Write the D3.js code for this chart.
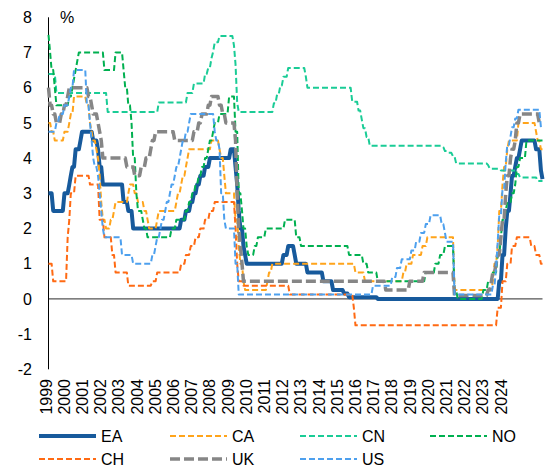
<!DOCTYPE html>
<html>
<head>
<meta charset="utf-8">
<script src="https://cdn.jsdelivr.net/npm/d3@7"></script>
<style>
  html, body { margin: 0; padding: 0; background: #fff; }
  svg { display: block; font-family: "Liberation Sans", Arial, sans-serif; }
</style>
</head>
<body>
<svg id="chart" width="552" height="471"></svg>
<script>
// ---- Data (policy rates, %; change points [month, value]) ----
const yearLabels = ["1999","2000","2001","2002","2003","2004","2005","2006","2007","2008","2009","2010","2011","2012","2013","2014","2015","2016","2017","2018","2019","2020","2021","2022","2023","2024"];
const yTicks = [-2,-1,0,1,2,3,4,5,6,7,8];
const seriesNames = ["EA","CA","CN","NO","CH","UK","US"];

const EA = [["1999-01",3.0],["1999-04",2.5],["1999-11",3.0],["2000-02",3.25],["2000-03",3.5],["2000-04",3.75],["2000-06",4.25],["2000-09",4.5],["2000-10",4.75],["2001-05",4.5],["2001-08",4.25],["2001-09",3.75],["2001-11",3.25],["2002-12",2.75],["2003-03",2.5],["2003-06",2.0],["2005-12",2.25],["2006-03",2.5],["2006-06",2.75],["2006-08",3.0],["2006-10",3.25],["2006-12",3.5],["2007-03",3.75],["2007-06",4.0],["2008-07",4.25],["2008-10",3.75],["2008-11",3.25],["2008-12",2.5],["2009-01",2.0],["2009-03",1.5],["2009-04",1.25],["2009-05",1.0],["2011-04",1.25],["2011-07",1.5],["2011-11",1.25],["2011-12",1.0],["2012-07",0.75],["2013-05",0.5],["2013-11",0.25],["2014-06",0.15],["2014-09",0.05],["2016-03",0.0],["2022-07",0.5],["2022-09",1.25],["2022-11",2.0],["2022-12",2.5],["2023-02",3.0],["2023-03",3.5],["2023-05",3.75],["2023-06",4.0],["2023-08",4.25],["2023-09",4.5],["2024-06",4.25],["2024-09",3.65],["2024-10",3.4]];

const CA = [["1999-01",5.0],["1999-03",4.75],["1999-05",4.5],["1999-11",4.75],["2000-02",5.0],["2000-03",5.25],["2000-05",5.75],["2001-01",5.5],["2001-03",5.0],["2001-04",4.75],["2001-05",4.5],["2001-07",4.25],["2001-08",4.0],["2001-09",3.5],["2001-10",2.75],["2001-11",2.25],["2002-01",2.0],["2002-04",2.25],["2002-06",2.5],["2002-07",2.75],["2003-03",3.0],["2003-04",3.25],["2003-07",3.0],["2003-09",2.75],["2004-01",2.5],["2004-03",2.25],["2004-04",2.0],["2004-09",2.25],["2004-10",2.5],["2005-09",2.75],["2005-10",3.0],["2005-12",3.25],["2006-01",3.5],["2006-03",3.75],["2006-04",4.0],["2006-05",4.25],["2007-07",4.5],["2007-12",4.25],["2008-01",4.0],["2008-03",3.5],["2008-04",3.0],["2008-10",2.25],["2008-12",1.5],["2009-01",1.0],["2009-03",0.5],["2009-04",0.25],["2010-06",0.5],["2010-07",0.75],["2010-09",1.0],["2015-01",0.75],["2015-07",0.5],["2017-07",0.75],["2017-09",1.0],["2018-01",1.25],["2018-07",1.5],["2018-10",1.75],["2020-03",0.25],["2022-03",0.5],["2022-04",1.0],["2022-06",1.5],["2022-07",2.5],["2022-09",3.25],["2022-10",3.75],["2022-12",4.25],["2023-01",4.5],["2023-07",5.0],["2024-06",4.75],["2024-07",4.5],["2024-09",4.25],["2024-10",4.25]];

const CN = [["1999-01",6.39],["1999-06",5.85],["2002-02",5.31],["2004-10",5.58],["2006-04",5.85],["2006-08",6.12],["2007-03",6.39],["2007-05",6.57],["2007-07",6.84],["2007-08",7.02],["2007-09",7.29],["2007-12",7.47],["2008-09",7.2],["2008-10",6.66],["2008-11",5.58],["2008-12",5.31],["2010-10",5.56],["2010-12",5.81],["2011-02",6.06],["2011-04",6.31],["2011-07",6.56],["2012-06",6.31],["2012-07",6.0],["2014-11",5.6],["2015-03",5.35],["2015-05",5.1],["2015-06",4.85],["2015-08",4.6],["2015-10",4.35],["2019-08",4.31],["2019-09",4.2],["2019-11",4.15],["2020-02",4.05],["2020-04",3.85],["2021-12",3.8],["2022-01",3.7],["2022-08",3.65],["2023-06",3.55],["2023-08",3.45],["2024-07",3.35],["2024-10",3.35]];

const NO = [["1999-01",7.5],["1999-02",7.0],["1999-03",6.5],["1999-05",6.0],["1999-06",5.5],["2000-02",5.75],["2000-04",6.0],["2000-05",6.25],["2000-06",6.5],["2000-07",6.75],["2000-08",7.0],["2001-12",6.5],["2002-07",7.0],["2002-12",6.5],["2003-01",6.0],["2003-03",5.5],["2003-05",5.0],["2003-06",4.0],["2003-08",3.0],["2003-09",2.5],["2003-12",2.25],["2004-01",2.0],["2004-03",1.75],["2005-06",2.0],["2005-09",2.25],["2006-03",2.5],["2006-05",2.75],["2006-07",3.0],["2006-09",3.25],["2006-11",3.5],["2007-01",3.75],["2007-03",4.0],["2007-05",4.25],["2007-06",4.5],["2007-08",4.75],["2007-09",5.0],["2007-12",5.25],["2008-06",5.75],["2008-10",4.75],["2008-12",3.0],["2009-02",2.5],["2009-03",2.0],["2009-05",1.5],["2009-06",1.25],["2009-10",1.5],["2009-12",1.75],["2010-05",2.0],["2011-05",2.25],["2011-12",1.75],["2012-03",1.5],["2014-09",1.25],["2015-06",1.0],["2015-09",0.75],["2016-03",0.5],["2018-09",0.75],["2019-03",1.0],["2019-06",1.25],["2019-09",1.5],["2020-03",0.25],["2020-05",0.0],["2021-09",0.25],["2021-12",0.5],["2022-03",0.75],["2022-06",1.25],["2022-08",1.75],["2022-09",2.25],["2022-11",2.5],["2022-12",2.75],["2023-03",3.0],["2023-05",3.25],["2023-06",3.75],["2023-08",4.0],["2023-12",4.5],["2024-10",4.5]];

const CH = [["1999-01",1.0],["1999-04",0.5],["2000-01",1.75],["2000-02",2.25],["2000-03",3.0],["2000-06",3.5],["2001-03",3.25],["2001-09",2.25],["2001-12",1.75],["2002-05",1.25],["2002-07",0.75],["2003-03",0.375],["2004-06",0.5],["2004-09",0.75],["2005-12",1.0],["2006-03",1.25],["2006-06",1.5],["2006-09",1.75],["2006-12",2.0],["2007-03",2.25],["2007-06",2.5],["2007-09",2.75],["2008-10",2.0],["2008-11",1.0],["2008-12",0.5],["2009-03",0.375],["2011-08",0.125],["2014-12",-0.25],["2015-01",-0.75],["2022-06",-0.25],["2022-09",0.5],["2022-12",1.0],["2023-03",1.5],["2023-06",1.75],["2024-03",1.5],["2024-06",1.25],["2024-09",1.0],["2024-10",1.0]];

const UK = [["1999-01",6.0],["1999-02",5.5],["1999-04",5.25],["1999-06",5.0],["1999-09",5.25],["1999-11",5.5],["2000-01",5.75],["2000-02",6.0],["2001-02",5.75],["2001-04",5.5],["2001-05",5.25],["2001-08",5.0],["2001-09",4.75],["2001-10",4.5],["2001-11",4.0],["2003-02",3.75],["2003-07",3.5],["2003-11",3.75],["2004-02",4.0],["2004-05",4.25],["2004-06",4.5],["2004-08",4.75],["2005-08",4.5],["2006-08",4.75],["2006-11",5.0],["2007-01",5.25],["2007-05",5.5],["2007-07",5.75],["2007-12",5.5],["2008-02",5.25],["2008-04",5.0],["2008-10",4.5],["2008-11",3.0],["2008-12",2.0],["2009-01",1.5],["2009-02",1.0],["2009-03",0.5],["2016-08",0.25],["2017-11",0.5],["2018-08",0.75],["2020-03",0.1],["2021-12",0.25],["2022-02",0.5],["2022-03",0.75],["2022-05",1.0],["2022-06",1.25],["2022-08",1.75],["2022-09",2.25],["2022-11",3.0],["2022-12",3.5],["2023-02",4.0],["2023-03",4.25],["2023-05",4.5],["2023-06",5.0],["2023-08",5.25],["2024-08",5.0],["2024-10",5.0]];

const US = [["1999-01",4.75],["1999-06",5.0],["1999-08",5.25],["1999-11",5.5],["2000-02",5.75],["2000-03",6.0],["2000-05",6.5],["2001-01",5.5],["2001-03",5.0],["2001-04",4.5],["2001-05",4.0],["2001-06",3.75],["2001-08",3.5],["2001-09",3.0],["2001-10",2.5],["2001-11",2.0],["2001-12",1.75],["2002-11",1.25],["2003-06",1.0],["2004-06",1.25],["2004-08",1.5],["2004-09",1.75],["2004-11",2.0],["2004-12",2.25],["2005-02",2.5],["2005-03",2.75],["2005-05",3.0],["2005-06",3.25],["2005-08",3.5],["2005-09",3.75],["2005-11",4.0],["2005-12",4.25],["2006-01",4.5],["2006-03",4.75],["2006-05",5.0],["2006-06",5.25],["2007-09",4.75],["2007-10",4.5],["2007-12",4.25],["2008-01",3.0],["2008-03",2.25],["2008-04",2.0],["2008-10",1.0],["2008-12",0.125],["2015-12",0.375],["2016-12",0.625],["2017-03",0.875],["2017-06",1.125],["2017-12",1.375],["2018-03",1.625],["2018-06",1.875],["2018-09",2.125],["2018-12",2.375],["2019-07",2.125],["2019-09",1.875],["2019-10",1.625],["2020-03",0.125],["2022-03",0.375],["2022-05",0.875],["2022-06",1.625],["2022-07",2.375],["2022-09",3.125],["2022-11",3.875],["2022-12",4.375],["2023-02",4.625],["2023-03",4.875],["2023-05",5.125],["2023-07",5.375],["2024-09",4.875],["2024-10",4.875]];

// ---- Styles ----
const styles = {
  EA: {color: "#175A9C", width: 4, dash: null},
  CA: {color: "#FFA41B", width: 2, dash: "6,3"},
  CN: {color: "#1ACC96", width: 2, dash: "6,3"},
  NO: {color: "#00B050", width: 2, dash: "6,3"},
  CH: {color: "#FF6A13", width: 2, dash: "6,3"},
  UK: {color: "#868686", width: 3.5, dash: "10,4"},
  US: {color: "#4DA0EE", width: 2, dash: "6,3"}
};
const dataByName = {EA, CA, CN, NO, CH, UK, US};

const svg = d3.select("#chart");
const parse = d3.timeParse("%Y-%m");

const x = d3.scaleTime().domain([parse("1999-01"), parse("2024-10")]).range([48.5, 542.5]);
const y = d3.scaleLinear().domain([-2, 8]).range([369.3, 17.3]);
const xLab = d3.scalePoint().domain(yearLabels).range([46, 501]);

// zero line
svg.append("line")
  .attr("x1", x.range()[0]).attr("x2", x.range()[1])
  .attr("y1", y(0)).attr("y2", y(0))
  .attr("stroke", "#555").attr("stroke-width", 1.2);

// y axis line
svg.append("line")
  .attr("x1", 48.5).attr("x2", 48.5)
  .attr("y1", y(8)).attr("y2", y(-2))
  .attr("stroke", "#000").attr("stroke-width", 1);

// y tick labels
svg.append("g").selectAll("text").data(yTicks).join("text")
  .attr("x", 32).attr("y", d => y(d)).attr("dy", "0.35em")
  .attr("text-anchor", "end").attr("font-size", 16).attr("fill", "#000")
  .text(d => d);

// unit
svg.append("text").attr("x", 60).attr("y", 23).attr("font-size", 16).attr("fill", "#000").text("%");

// x labels
svg.append("g").selectAll("text").data(yearLabels).join("text")
  .attr("transform", d => `translate(${xLab(d)},379) rotate(-90)`)
  .attr("dy", "0.35em").attr("text-anchor", "end")
  .attr("font-size", 16).attr("fill", "#000")
  .text(d => d);

// lines: monthly line chart look — each change ramps over the month before it
const toPath = arr => {
  const pts = [];
  arr.forEach((d, i) => {
    const t = parse(d[0]);
    if (i > 0) pts.push([d3.timeMonth.offset(t, -1), arr[i - 1][1]]);
    pts.push([t, d[1]]);
  });
  return pts;
};
const line = d3.line()
  .x(d => x(d[0]))
  .y(d => y(d[1]));

const gLines = svg.append("g");
seriesNames.forEach(name => {
  const s = styles[name];
  gLines.append("path")
    .datum(toPath(dataByName[name]))
    .attr("d", line)
    .attr("fill", "none")
    .attr("stroke", s.color)
    .attr("stroke-width", s.width)
    .attr("stroke-dasharray", s.dash)
    .attr("stroke-linejoin", "round");
});

// legend
const legCols = [39, 170, 300, 430];
const legRows = [436, 459];
const legend = svg.append("g");
seriesNames.forEach((name, i) => {
  const s = styles[name];
  const cx = legCols[i % 4], cy = legRows[Math.floor(i / 4)];
  legend.append("line")
    .attr("x1", cx).attr("x2", cx + 57).attr("y1", cy).attr("y2", cy)
    .attr("stroke", s.color).attr("stroke-width", s.width)
    .attr("stroke-dasharray", s.dash);
  legend.append("text")
    .attr("x", cx + 62).attr("y", cy).attr("dy", "0.35em")
    .attr("font-size", 16).attr("fill", "#000").text(name);
});
</script>
</body>
</html>
